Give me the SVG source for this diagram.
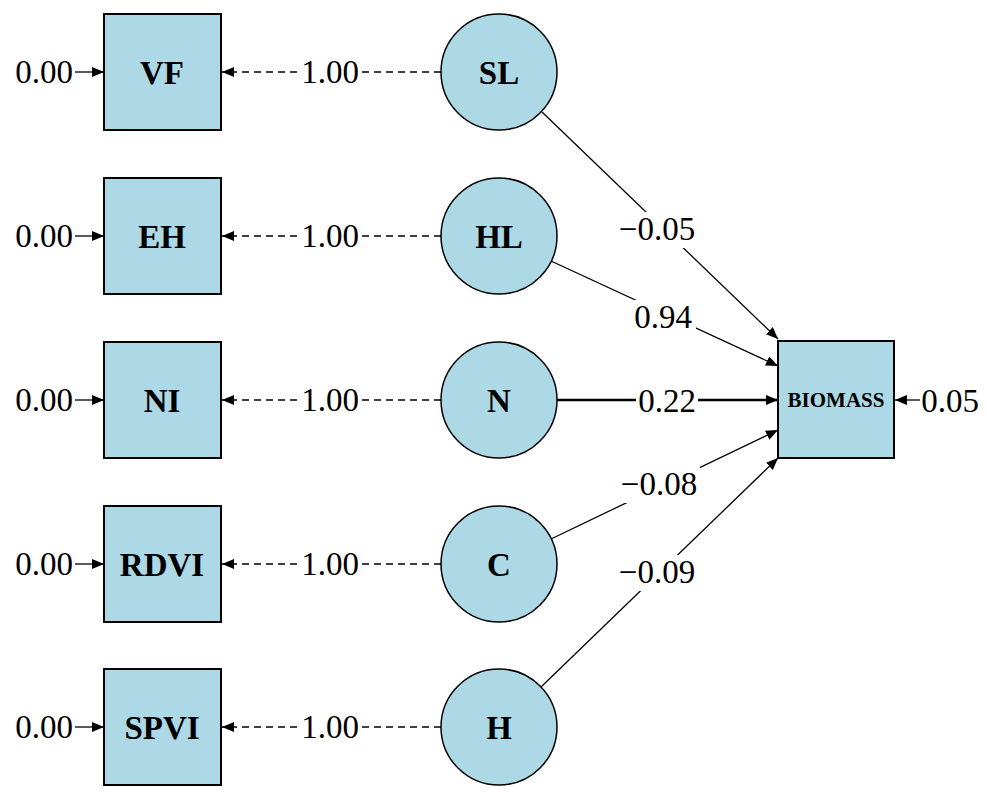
<svg xmlns="http://www.w3.org/2000/svg" width="987" height="796" viewBox="0 0 987 796">
<style>
.box{fill:#ADD8E6;stroke:#000;stroke-width:2}
.circ{fill:#ADD8E6;stroke:#000;stroke-width:1.5}
.nl{font-family:"Liberation Serif",serif;font-weight:bold;font-size:33px;text-anchor:middle;fill:#000}
.bl{font-family:"Liberation Serif",serif;font-weight:bold;font-size:21px;text-anchor:middle;fill:#000}
.el{font-family:"Liberation Serif",serif;font-size:33px;text-anchor:middle;fill:#000}
.dash{stroke:#000;stroke-width:1.5;stroke-dasharray:7,5;fill:none}
.thin{stroke:#000;stroke-width:1.3;fill:none}
.thick{stroke:#000;stroke-width:2.5;fill:none}
.bg{fill:#fff}
</style>
<defs>
<marker id="ah" markerUnits="userSpaceOnUse" markerWidth="13" markerHeight="10" refX="12" refY="5" orient="auto">
<path d="M0,0 L12,5 L0,10 z" fill="#000"/>
</marker>
</defs>
<rect width="987" height="796" fill="#fff"/>
<g id="connectors">
<line class="thin" x1="75" y1="72" x2="104" y2="72" marker-end="url(#ah)"/>
<line class="thin" x1="75" y1="236" x2="104" y2="236" marker-end="url(#ah)"/>
<line class="thin" x1="75" y1="400" x2="104" y2="400" marker-end="url(#ah)"/>
<line class="thin" x1="75" y1="564" x2="104" y2="564" marker-end="url(#ah)"/>
<line class="thin" x1="75" y1="727" x2="104" y2="727" marker-end="url(#ah)"/>
<line class="dash" x1="441" y1="72" x2="222" y2="72" marker-end="url(#ah)"/>
<line class="dash" x1="441" y1="236" x2="222" y2="236" marker-end="url(#ah)"/>
<line class="dash" x1="441" y1="400" x2="222" y2="400" marker-end="url(#ah)"/>
<line class="dash" x1="441" y1="564" x2="222" y2="564" marker-end="url(#ah)"/>
<line class="dash" x1="441" y1="727" x2="222" y2="727" marker-end="url(#ah)"/>
<line class="thin" x1="542" y1="112" x2="778" y2="339" marker-end="url(#ah)"/>
<line class="thin" x1="551" y1="261" x2="778" y2="366" marker-end="url(#ah)"/>
<line class="thick" x1="557" y1="400" x2="778" y2="400" marker-end="url(#ah)"/>
<line class="thin" x1="551" y1="539" x2="778" y2="430" marker-end="url(#ah)"/>
<line class="thin" x1="541" y1="687" x2="778" y2="458" marker-end="url(#ah)"/>
<line class="thin" x1="920" y1="400" x2="895" y2="400" marker-end="url(#ah)"/>
<g id="edge-labels">
<rect class="bg" x="300" y="52" width="60" height="38"/>
<text class="el" x="330" y="83">1.00</text>
<rect class="bg" x="300" y="216" width="60" height="38"/>
<text class="el" x="330" y="247">1.00</text>
<rect class="bg" x="300" y="380" width="60" height="38"/>
<text class="el" x="330" y="411">1.00</text>
<rect class="bg" x="300" y="544" width="60" height="38"/>
<text class="el" x="330" y="575">1.00</text>
<rect class="bg" x="300" y="707" width="60" height="38"/>
<text class="el" x="330" y="738">1.00</text>
<text class="el" x="44" y="83">0.00</text>
<text class="el" x="44" y="247">0.00</text>
<text class="el" x="44" y="411">0.00</text>
<text class="el" x="44" y="575">0.00</text>
<text class="el" x="44" y="738">0.00</text>
<rect class="bg" x="618" y="212" width="80" height="36"/>
<text class="el" x="657" y="240">−0.05</text>
<rect class="bg" x="630" y="300" width="66" height="36"/>
<text class="el" x="663" y="328">0.94</text>
<rect class="bg" x="636" y="384" width="62" height="36"/>
<text class="el" x="667" y="412">0.22</text>
<rect class="bg" x="618" y="467" width="82" height="36"/>
<text class="el" x="659" y="495">−0.08</text>
<rect class="bg" x="618" y="555" width="80" height="36"/>
<text class="el" x="657" y="583">−0.09</text>
<text class="el" x="950" y="412">0.05</text>
</g>
</g>
<g id="VF"><rect class="box" x="104" y="14" width="117" height="116"/><text class="nl" x="162" y="84">VF</text></g>
<g id="EH"><rect class="box" x="104" y="178" width="117" height="116"/><text class="nl" x="162" y="248">EH</text></g>
<g id="NI"><rect class="box" x="104" y="342" width="117" height="116"/><text class="nl" x="162" y="412">NI</text></g>
<g id="RDVI"><rect class="box" x="104" y="506" width="117" height="116"/><text class="nl" x="162" y="576">RDVI</text></g>
<g id="SPVI"><rect class="box" x="104" y="669" width="117" height="116"/><text class="nl" x="162" y="739">SPVI</text></g>
<g id="SL"><circle class="circ" cx="499" cy="72" r="58"/><text class="nl" x="499" y="84">SL</text></g>
<g id="HL"><circle class="circ" cx="499" cy="236" r="58"/><text class="nl" x="499" y="248">HL</text></g>
<g id="N"><circle class="circ" cx="499" cy="400" r="58"/><text class="nl" x="499" y="412">N</text></g>
<g id="C"><circle class="circ" cx="499" cy="564" r="58"/><text class="nl" x="499" y="576">C</text></g>
<g id="H"><circle class="circ" cx="499" cy="727" r="58"/><text class="nl" x="499" y="739">H</text></g>
<g id="BIOMASS"><rect class="box" x="778" y="341" width="116" height="117"/><text class="bl" x="836" y="407">BIOMASS</text></g>
</svg>
